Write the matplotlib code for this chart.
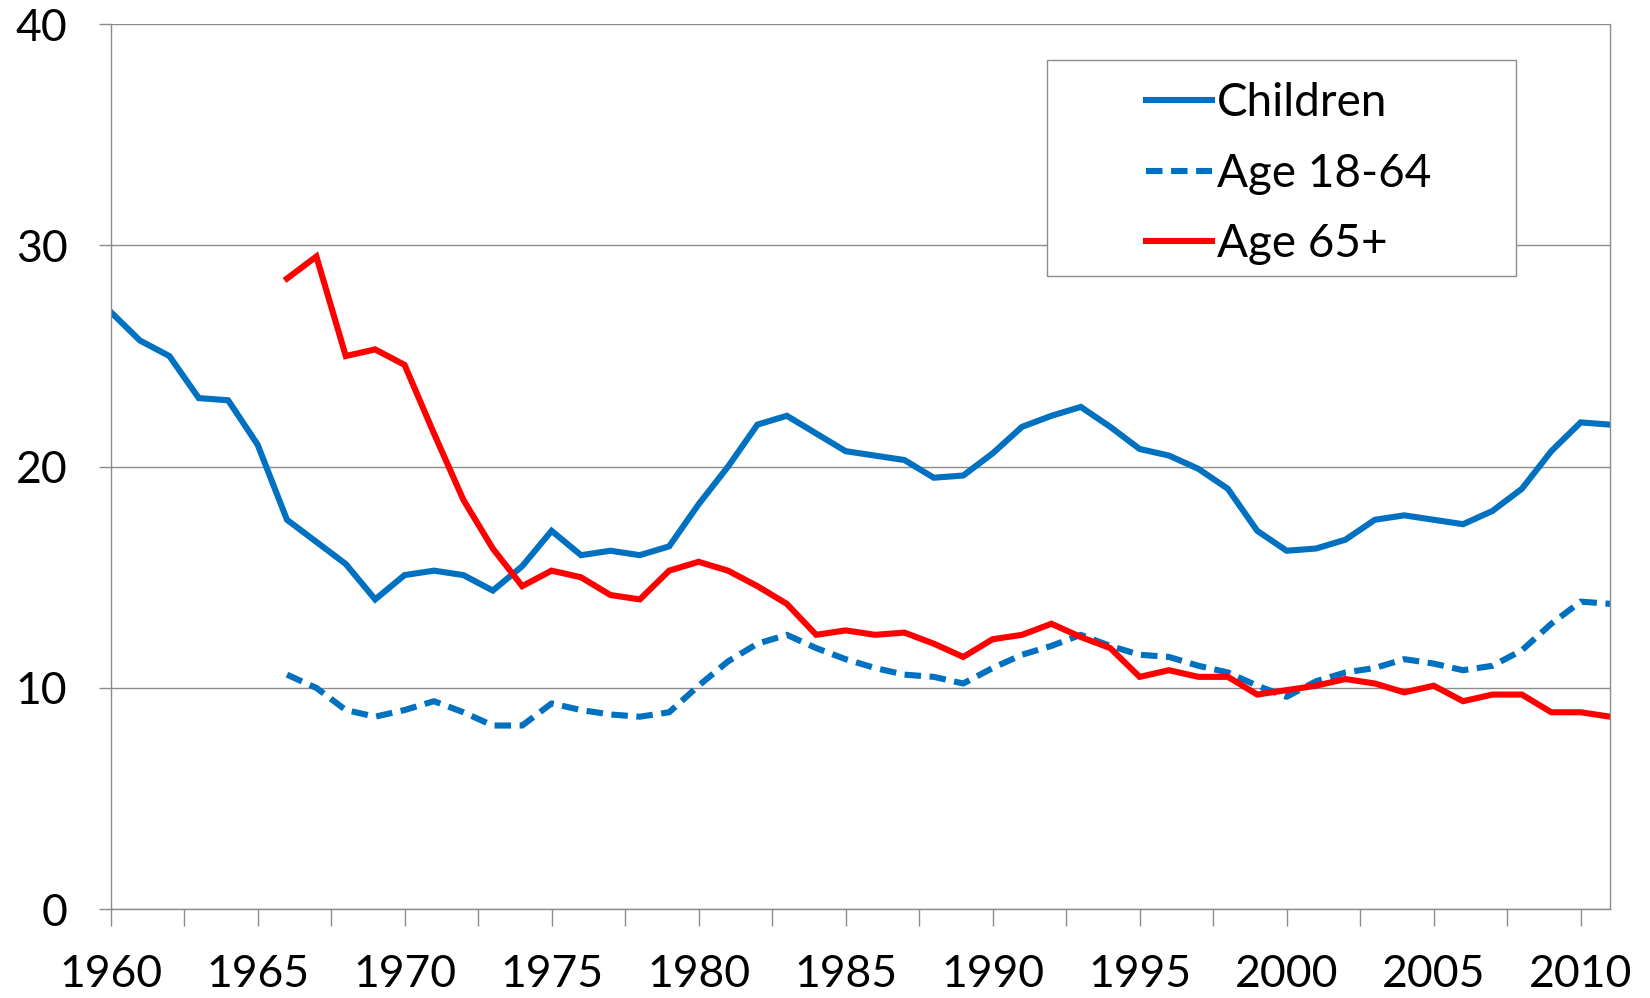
import matplotlib
matplotlib.use("Agg")
import matplotlib.pyplot as plt
from matplotlib.patches import Rectangle
import numpy as np

years_children = list(range(1960, 2012))
children = [27.0, 25.7, 25.0, 23.1, 23.0, 21.0, 17.6, 16.6, 15.6, 14.0,
            15.1, 15.3, 15.1, 14.4, 15.5, 17.1, 16.0, 16.2, 16.0, 16.4,
            18.3, 20.0, 21.9, 22.3, 21.5, 20.7, 20.5, 20.3, 19.5, 19.6,
            20.6, 21.8, 22.3, 22.7, 21.8, 20.8, 20.5, 19.9, 19.0, 17.1,
            16.2, 16.3, 16.7, 17.6, 17.8, 17.6, 17.4, 18.0, 19.0, 20.7,
            22.0, 21.9]

years_adult = list(range(1966, 2012))
age_18_64 = [10.6, 10.0, 9.0, 8.7, 9.0, 9.4, 8.9, 8.3, 8.3, 9.3,
             9.0, 8.8, 8.7, 8.9, 10.1, 11.2, 12.0, 12.4, 11.8, 11.3,
             10.9, 10.6, 10.5, 10.2, 10.9, 11.5, 11.9, 12.4, 11.9, 11.5,
             11.4, 11.0, 10.7, 10.1, 9.6, 10.3, 10.7, 10.9, 11.3, 11.1,
             10.8, 11.0, 11.7, 12.9, 13.9, 13.8]
age_65 = [28.5, 29.5, 25.0, 25.3, 24.6, 21.5, 18.5, 16.3, 14.6, 15.3,
          15.0, 14.2, 14.0, 15.3, 15.7, 15.3, 14.6, 13.8, 12.4, 12.6,
          12.4, 12.5, 12.0, 11.4, 12.2, 12.4, 12.9, 12.3, 11.8, 10.5,
          10.8, 10.5, 10.5, 9.7, 9.9, 10.1, 10.4, 10.2, 9.8, 10.1,
          9.4, 9.7, 9.7, 8.9, 8.9, 8.7]

x_ticks = list(range(1960, 2011, 5))
y_ticks = [0, 10, 20, 30, 40]
labels = ["Children", "Age 18-64", "Age 65+"]

BLUE = "#0070C0"
RED = "#FF0000"
GRID = "#8c8c8c"

plt.rcParams['font.family'] = ['Lato', 'DejaVu Sans']

fig = plt.figure(figsize=(16.5, 9.98), dpi=100)
ax = fig.add_axes([0.067, 0.089, 0.9088, 0.8868])

lw = 4.4
l1, = ax.plot(years_children, children, color=BLUE, lw=lw, solid_joinstyle='miter', label=labels[0])
l2, = ax.plot(years_adult, age_18_64, color=BLUE, lw=lw, ls=(0, (2.7, 1.4)), label=labels[1])
l3, = ax.plot(years_adult, age_65, color=RED, lw=lw, solid_joinstyle='miter', label=labels[2])

ax.set_xticks(x_ticks)
ax.set_xticks([t + 2.5 for t in x_ticks], minor=True)
ax.set_yticks(y_ticks)
ax.set_xlim(1960, 2011)
ax.set_ylim(0, 40)
ax.yaxis.grid(True, color=GRID, lw=1.0)
ax.set_axisbelow(True)

for s in ['left', 'bottom', 'right']:
    ax.spines[s].set_color(GRID)
    ax.spines[s].set_linewidth(1.0)
ax.spines['top'].set_visible(False)

ax.tick_params(axis='x', which='both', direction='out', length=12, color=GRID, width=1.0,
               labelsize=32, pad=20)
ax.tick_params(axis='y', direction='out', length=9, color=GRID, width=1.0,
               labelsize=32, pad=22)

leg = ax.legend(handles=[l1, l2, l3], loc='upper left', bbox_to_anchor=(0.675, 0.960),
                frameon=False, fontsize=33, handlelength=1.44, handletextpad=0.11,
                labelspacing=0.62, borderpad=0.0)

ax.add_patch(Rectangle((0.6245, 0.7155), 0.3125, 0.244, transform=ax.transAxes,
                       facecolor='white', edgecolor=GRID, lw=1.0, zorder=4))
leg.set_zorder(5)

fig.savefig("out.png", dpi=100)
